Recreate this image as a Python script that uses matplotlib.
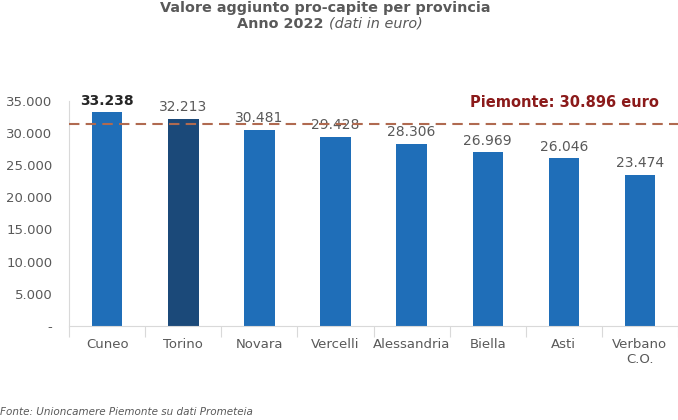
import matplotlib.pyplot as plt
from matplotlib.ticker import FuncFormatter, FixedLocator

plt.rcParams["font.family"] = ["DejaVu Sans"]

# Data
province = ["Cuneo", "Torino", "Novara", "Vercelli", "Alessandria", "Biella", "Asti", "Verbano\nC.O."]
valori = [33238, 32213, 30481, 29428, 28306, 26969, 26046, 23474]
piemonte_valore = 30896
piemonte_linea = 31400  # level of the dashed line as drawn in the picture
yticks = [0, 5000, 10000, 15000, 20000, 25000, 30000, 35000]

grigio = "#595959"
blu = "#1F6EB8"
blu_scuro = "#1B4979"

fig = plt.figure(figsize=(6.78, 4.2), dpi=100)
ax = fig.add_axes([0.102, 0.224, 0.898, 0.536])

x = list(range(len(province)))
colori = [blu_scuro if p == "Torino" else blu for p in province]
ax.bar(x, valori, width=0.4, color=colori, zorder=2)

def fmt(v):
    return f"{v:,.0f}".replace(",", ".")

for i, v in enumerate(valori):
    peso = "bold" if i == 0 else "normal"
    ax.text(i, v + 700, fmt(v), ha="center", va="bottom", fontsize=10,
            color="#262626" if i == 0 else grigio, fontweight=peso)

ax.axhline(piemonte_linea, color="#B06A50", linestyle=(0, (5, 3)), linewidth=1.5, zorder=3)
ax.text(len(province) - 0.75, 34700, f"Piemonte: {fmt(piemonte_valore)} euro",
        ha="right", va="center", fontsize=10.5, fontweight="bold", color="#8B1A1A")

ax.set_xlim(-0.5, len(province) - 0.5)
ax.set_ylim(0, 35000)
ax.set_yticks(yticks)
ax.yaxis.set_major_formatter(FuncFormatter(lambda v, p: "-" if v == 0 else fmt(v)))
ax.tick_params(axis="y", length=0, labelsize=9.5, labelcolor=grigio, pad=12)

# category boundaries as tick marks, labels in centre
ax.xaxis.set_major_locator(FixedLocator([i - 0.5 for i in range(len(province) + 1)]))
ax.xaxis.set_major_formatter(FuncFormatter(lambda v, p: ""))
ax.tick_params(axis="x", which="major", length=8, color="#D9D9D9", width=0.8)
ax.xaxis.set_minor_locator(FixedLocator(x))
ax.set_xticklabels(province, minor=True)
ax.tick_params(axis="x", which="minor", length=0, labelsize=9.5, labelcolor=grigio, pad=9)

for s in ["top", "right"]:
    ax.spines[s].set_visible(False)
ax.spines["left"].set_color("#D9D9D9")
ax.spines["bottom"].set_color("#D9D9D9")

xc = 0.48
fig.text(xc, 0.981, "Valore aggiunto pro-capite per provincia", ha="center", va="center",
         fontsize=10.4, fontweight="bold", color=grigio)
fig.text(xc + 0.005, 0.943, "Anno 2022 ", ha="right", va="center",
         fontsize=10.4, fontweight="bold", color=grigio)
fig.text(xc + 0.005, 0.943, "(dati in euro)", ha="left", va="center",
         fontsize=10.4, style="italic", color=grigio)

fig.text(0.0, 0.018, "Fonte: Unioncamere Piemonte su dati Prometeia", ha="left", va="center",
         fontsize=7.5, style="italic", color=grigio)

fig.savefig("out.png", dpi=100)
